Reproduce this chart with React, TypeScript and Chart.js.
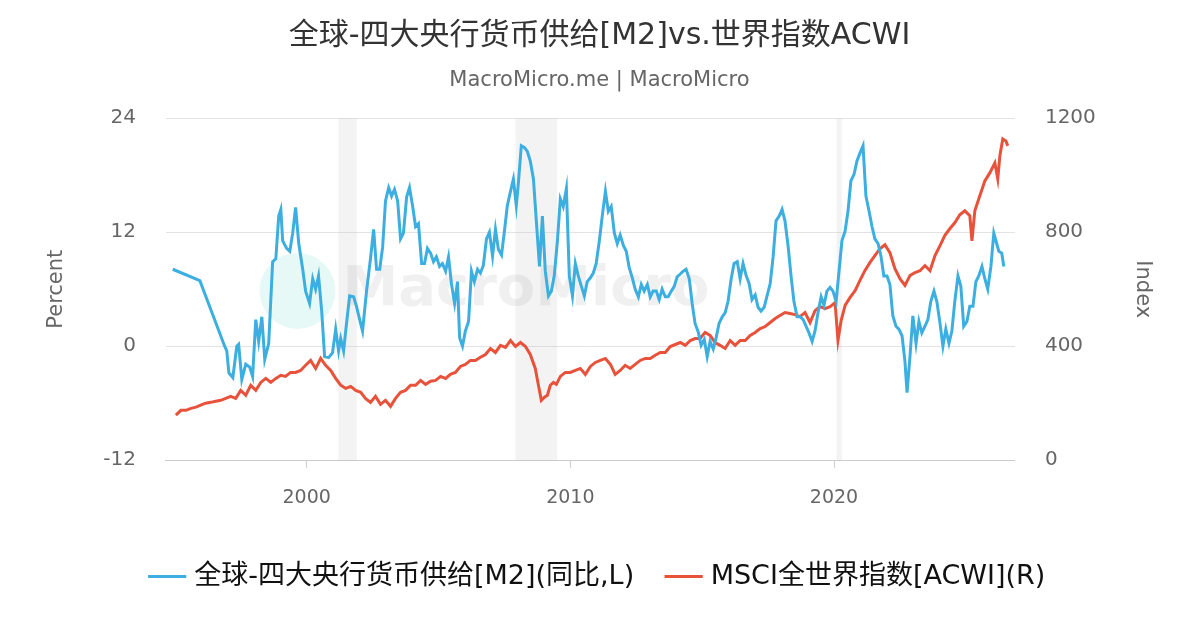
import React, { useEffect, useRef } from "react";
import { Chart, registerables } from "chart.js";
Chart.register(...registerables);

const m2Years = [1994.92,1995.95,1996.89,1996.97,1997.05,1997.2,1997.35,1997.42,1997.54,1997.69,1997.84,1997.95,1998.07,1998.18,1998.3,1998.41,1998.56,1998.71,1998.83,1998.94,1999.02,1999.09,1999.24,1999.36,1999.47,1999.58,1999.7,1999.85,1999.96,2000.11,2000.23,2000.34,2000.45,2000.57,2000.68,2000.83,2000.98,2001.1,2001.21,2001.29,2001.4,2001.52,2001.63,2001.78,2001.89,2002.01,2002.12,2002.27,2002.42,2002.54,2002.65,2002.77,2002.88,2002.99,2003.11,2003.22,2003.33,2003.45,2003.56,2003.67,2003.79,2003.9,2004.02,2004.13,2004.24,2004.36,2004.47,2004.58,2004.7,2004.81,2004.92,2005.04,2005.15,2005.27,2005.38,2005.49,2005.61,2005.72,2005.8,2005.91,2006.02,2006.14,2006.25,2006.36,2006.48,2006.59,2006.7,2006.82,2006.93,2007.05,2007.16,2007.27,2007.39,2007.5,2007.61,2007.73,2007.84,2007.95,2008.03,2008.14,2008.26,2008.37,2008.48,2008.6,2008.71,2008.83,2008.94,2009.05,2009.17,2009.28,2009.39,2009.51,2009.62,2009.73,2009.85,2009.96,2010.08,2010.19,2010.3,2010.42,2010.53,2010.64,2010.76,2010.87,2010.98,2011.1,2011.21,2011.33,2011.44,2011.55,2011.67,2011.78,2011.89,2012.01,2012.12,2012.23,2012.35,2012.46,2012.58,2012.69,2012.8,2012.92,2013.03,2013.14,2013.26,2013.37,2013.48,2013.6,2013.71,2013.83,2013.94,2014.05,2014.17,2014.28,2014.39,2014.51,2014.62,2014.73,2014.85,2014.96,2015.08,2015.19,2015.3,2015.42,2015.53,2015.64,2015.76,2015.87,2015.98,2016.1,2016.21,2016.33,2016.44,2016.55,2016.67,2016.78,2016.89,2017.01,2017.12,2017.23,2017.35,2017.46,2017.58,2017.69,2017.8,2017.92,2018.03,2018.14,2018.26,2018.37,2018.48,2018.6,2018.71,2018.83,2018.94,2019.05,2019.17,2019.28,2019.39,2019.51,2019.62,2019.73,2019.85,2019.96,2020.08,2020.19,2020.3,2020.42,2020.53,2020.64,2020.76,2020.87,2020.98,2021.1,2021.21,2021.33,2021.44,2021.55,2021.67,2021.78,2021.89,2022.01,2022.12,2022.23,2022.35,2022.46,2022.58,2022.69,2022.77,2022.88,2022.99,2023.11,2023.22,2023.33,2023.45,2023.56,2023.67,2023.79,2023.9,2024.02,2024.13,2024.24,2024.36,2024.47,2024.58,2024.7,2024.81,2024.92,2025.04,2025.15,2025.27,2025.38,2025.49,2025.61,2025.72,2025.83,2025.95,2026.06,2026.14,2026.25,2026.36,2026.44];
const m2Values = [8.1,6.9,0,-0.5,-2.8,-3.3,0,0.2,-3.5,-1.9,-2.2,-3.2,2.8,0.5,3.1,-1.4,0.3,8.9,9.2,13.7,14.4,11.1,10.3,10,11.9,14.6,10.8,8.1,5.8,4.5,7.1,6,7.4,3.7,-1.1,-1.2,-0.7,1.8,-0.5,0.8,-0.5,2.6,5.3,5.2,4.2,2.8,1.6,5.8,9.2,12.3,8.1,8.1,10.4,15.3,16.7,15.8,16.5,15.3,11.3,11.9,15.7,16.7,14.7,12.6,12.9,8.7,8.7,10.3,9.8,8.9,9.4,8.4,8.7,7.9,9.4,6.6,4.5,6.8,0.9,0,1.6,2.6,7.9,6.8,8.1,7.7,8.5,11.3,12,9.5,12.3,10.2,9.6,12.1,14.8,16.3,17.6,14.8,17.2,21.1,20.9,20.5,19.5,17.6,13.2,8.4,13.7,7.9,5.3,5.8,7.4,11.1,15.5,14.7,16.6,7.4,5.3,8.7,7.4,6.3,5.3,6.8,7.2,7.7,8.7,11.1,13.7,16.3,14.2,14.7,11.9,10.8,11.7,10.6,10,8.3,7.2,6,5.2,6.5,5.8,6.5,5.2,5.8,5.8,4.9,6,5.2,5.2,5.8,6.3,7.3,7.6,7.9,8.1,7.1,4.5,2.4,1.5,0.1,0.7,-1.1,0.5,-0.3,0.9,2.4,3.1,3.5,4.7,7.1,8.7,8.9,7.1,8.7,7.4,6.6,4.9,5.4,4.1,3.7,4.1,5.3,6.6,9.4,13.2,13.7,14.4,13.2,10.5,7.4,4.7,3.1,3.1,2.8,2.1,1.4,0.5,1.6,3.5,5.2,4.3,5.8,6.2,5.8,4.7,7.9,11.1,12.1,14.2,17.4,18.1,19.5,20.3,21.1,15.8,14.2,12.6,11.3,10.8,9.5,7.4,7.4,6.5,3.2,2.1,1.8,1.1,-1.6,-4.9,-1.1,3.2,0.3,2.6,1.4,2.1,2.8,4.7,5.8,4.7,2.4,0,1.8,0.3,1.6,4.7,7.4,6.3,2.1,2.6,4.2,4.2,6.8,7.4,8.4,7.1,6,8.4,11.9,11.1,10,9.8,8.4];

const acwiYears = [1995.04,1995.23,1995.42,1995.61,1995.8,1995.98,1996.17,1996.36,1996.55,1996.74,1996.93,1997.12,1997.31,1997.5,1997.69,1997.88,1998.07,1998.26,1998.45,1998.64,1998.83,1999.02,1999.2,1999.39,1999.58,1999.77,1999.96,2000.15,2000.34,2000.53,2000.72,2000.91,2001.1,2001.29,2001.48,2001.67,2001.86,2002.05,2002.23,2002.42,2002.61,2002.8,2002.99,2003.18,2003.37,2003.56,2003.75,2003.94,2004.13,2004.32,2004.51,2004.7,2004.89,2005.08,2005.27,2005.45,2005.64,2005.83,2006.02,2006.21,2006.4,2006.59,2006.78,2006.97,2007.16,2007.35,2007.54,2007.73,2007.92,2008.11,2008.3,2008.48,2008.67,2008.79,2008.9,2009.02,2009.13,2009.24,2009.36,2009.47,2009.62,2009.81,2010,2010.19,2010.38,2010.57,2010.76,2010.95,2011.14,2011.33,2011.52,2011.7,2011.89,2012.08,2012.27,2012.46,2012.65,2012.84,2013.03,2013.22,2013.41,2013.6,2013.79,2013.98,2014.17,2014.36,2014.55,2014.73,2014.92,2015.11,2015.3,2015.49,2015.68,2015.87,2016.06,2016.25,2016.44,2016.63,2016.82,2017.01,2017.2,2017.39,2017.58,2017.77,2017.95,2018.14,2018.33,2018.52,2018.71,2018.9,2019.09,2019.28,2019.47,2019.66,2019.85,2020.04,2020.15,2020.27,2020.42,2020.61,2020.8,2020.98,2021.17,2021.36,2021.55,2021.74,2021.93,2022.12,2022.31,2022.5,2022.69,2022.88,2023.07,2023.26,2023.45,2023.64,2023.83,2024.02,2024.2,2024.39,2024.58,2024.77,2024.96,2025.15,2025.23,2025.34,2025.53,2025.72,2025.91,2026.1,2026.21,2026.29,2026.4,2026.52,2026.59];
const acwiValues = [158,175,175,182,186,193,200,203,207,210,217,224,217,245,228,263,245,273,287,273,287,298,294,308,308,315,333,350,322,357,333,315,287,263,252,259,245,238,217,203,224,196,210,189,217,238,245,263,263,280,266,277,280,294,287,301,308,329,336,350,350,361,371,392,378,403,396,420,399,413,399,371,322,263,210,221,228,263,273,266,294,308,308,315,322,301,329,343,350,357,336,301,315,333,322,336,350,357,357,368,378,378,399,406,413,403,420,427,427,448,438,413,403,392,420,403,420,420,438,448,462,469,483,497,508,518,515,511,504,518,483,525,539,532,539,553,420,490,543,571,595,630,665,693,718,742,756,728,672,637,613,648,658,665,683,665,718,753,788,812,833,861,875,858,770,875,928,980,1008,1043,987,1068,1127,1120,1103];

const recessionStarts = [2001.2, 2007.92, 2020.1];
const recessionEnds = [2001.9, 2009.5, 2020.3];
const xTicks = [2000, 2010, 2020];
const leftTicks = [-12, 0, 12, 24];
const rightTicks = [0, 400, 800, 1200];

const FONT = "'DejaVu Sans', 'Noto Sans CJK SC', sans-serif";

const bgPlugin = {
  id: "bg",
  beforeDatasetsDraw(chart: any) {
    const { ctx, chartArea: a, scales } = chart;
    ctx.save();
    ctx.fillStyle = "rgba(200,200,200,0.22)";
    recessionStarts.forEach((s, i) => {
      const x1 = scales.x.getPixelForValue(s);
      const x2 = scales.x.getPixelForValue(recessionEnds[i]);
      ctx.fillRect(x1, a.top, x2 - x1, a.bottom - a.top);
    });
    const cx = a.left + (a.right - a.left) * 0.155;
    const cy = a.top + (a.bottom - a.top) * 0.505;
    ctx.fillStyle = "rgba(60,210,190,0.13)";
    ctx.beginPath();
    ctx.arc(cx, cy, 38, 0, Math.PI * 2);
    ctx.fill();
    ctx.fillStyle = "rgba(150,150,150,0.14)";
    ctx.font = "bold 56px " + FONT;
    ctx.textBaseline = "middle";
    ctx.fillText("MacroMicro", cx + 45, cy);
    ctx.restore();
  },
};

export default function App() {
  const ref = useRef<HTMLCanvasElement>(null);
  useEffect(() => {
    document.body.style.margin = "0";
    const chart = new Chart(ref.current!, {
      type: "line",
      data: {
        datasets: [
          {
            label: "全球-四大央行货币供给[M2](同比,L)",
            data: m2Years.map((x, i) => ({ x, y: m2Values[i] })),
            borderColor: "#3daee0",
            backgroundColor: "#3daee0",
            borderWidth: 3,
            pointRadius: 0,
            tension: 0,
            yAxisID: "y",
          },
          {
            label: "MSCI全世界指数[ACWI](R)",
            data: acwiYears.map((x, i) => ({ x, y: acwiValues[i] })),
            borderColor: "#e8523b",
            backgroundColor: "#e8523b",
            borderWidth: 3,
            pointRadius: 0,
            tension: 0,
            yAxisID: "y1",
          },
        ],
      },
      options: {
        animation: false,
        responsive: false,
        layout: { padding: { left: 40, right: 41, top: 0, bottom: 30 } },
        plugins: {
          title: { display: true, text: "全球-四大央行货币供给[M2]vs.世界指数ACWI", color: "#333", font: { family: FONT, size: 30, weight: "normal" }, padding: { top: 18, bottom: 14 } },
          subtitle: { display: true, text: "MacroMicro.me | MacroMicro", color: "#666", font: { family: FONT, size: 21 }, padding: { bottom: 25 } },
          legend: {
            position: "bottom",
            labels: { usePointStyle: true, pointStyle: "line", boxWidth: 40, color: "#111", font: { family: FONT, size: 27 }, padding: 36 },
          },
          tooltip: { enabled: false },
        },
        scales: {
          x: {
            type: "linear",
            min: 1994.66,
            max: 2026.86,
            afterBuildTicks: (s: any) => { s.ticks = xTicks.map((v) => ({ value: v })); },
            ticks: { color: "#666", font: { family: FONT, size: 19 }, callback: (v: any) => String(v), padding: 18 },
            grid: { drawOnChartArea: false, drawTicks: true, tickLength: 8, color: "#ccc" },
            border: { color: "#ccc" },
          },
          y: {
            position: "left",
            min: -12,
            max: 24,
            afterBuildTicks: (s: any) => { s.ticks = leftTicks.map((v) => ({ value: v })); },
            ticks: { color: "#666", font: { family: FONT, size: 20 }, padding: 30, callback: (v: any) => String(v) },
            grid: { color: "#e3e3e3", drawTicks: false },
            border: { display: false },
            title: { display: true, text: "Percent", color: "#666", font: { family: FONT, size: 21 } },
          },
          y1: {
            position: "right",
            min: 0,
            max: 1200,
            afterBuildTicks: (s: any) => { s.ticks = rightTicks.map((v) => ({ value: v })); },
            ticks: { color: "#666", font: { family: FONT, size: 20 }, padding: 30, callback: (v: any) => String(v) },
            grid: { drawOnChartArea: false, drawTicks: false },
            border: { display: false },
            title: { display: true, text: "Index", color: "#666", font: { family: FONT, size: 21 } },
          },
        },
      },
      plugins: [bgPlugin],
    } as any);
    return () => chart.destroy();
  }, []);
  return <canvas ref={ref} width={1200} height={630} style={{ display: "block" }} />;
}
